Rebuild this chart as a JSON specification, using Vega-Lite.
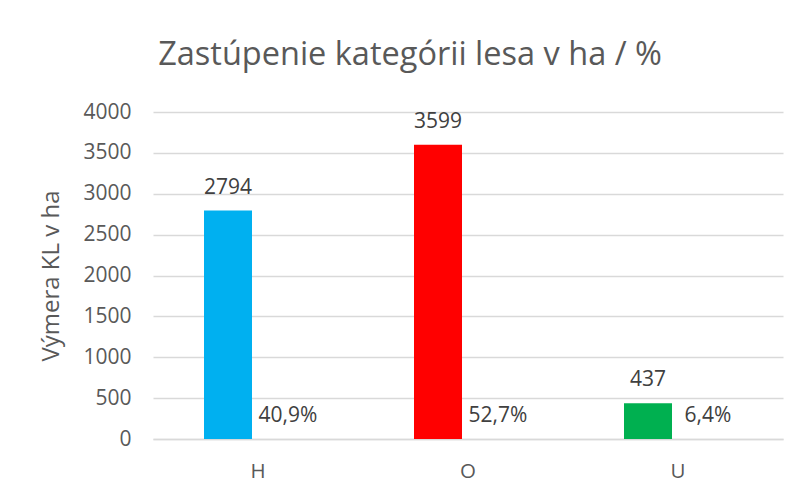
{
  "$schema": "https://vega.github.io/schema/vega-lite/v6.json",
  "width": 630,
  "height": 327,
  "autosize": {"type": "none"},
  "padding": {"left": 153, "top": 112, "right": 19, "bottom": 56},
  "background": "white",
  "config": {
    "font": "Open Sans",
    "view": {"stroke": null},
    "text": {"font": "Open Sans"}
  },
  "title": {
    "text": "Zastúpenie kategórii lesa v ha / %",
    "fontSize": 32.5,
    "fontWeight": "normal",
    "color": "#595959",
    "anchor": "middle",
    "dx": -58,
    "baseline": "alphabetic",
    "offset": 4
  },
  "data": {
    "values": [
      {"kat": "H", "ha": 2794, "pct": "40,9%"},
      {"kat": "O", "ha": 3599, "pct": "52,7%"},
      {"kat": "U", "ha": 437, "pct": "6,4%"}
    ]
  },
  "encoding": {
    "x": {
      "field": "kat",
      "type": "nominal",
      "scale": {"paddingInner": 0.4, "paddingOuter": 0.2},
      "axis": {
        "title": null,
        "labelAngle": 0,
        "labelFontSize": 20.5,
        "labelColor": "#595959",
        "labelPadding": 22,
        "ticks": false,
        "domain": true,
        "domainColor": "#D9D9D9",
        "domainWidth": 1.5
      }
    }
  },
  "layer": [
    {
      "mark": {"type": "bar"},
      "encoding": {
        "xOffset": {"datum": "Výmera", "type": "nominal", "scale": {"domain": ["Výmera", "Podiel"], "paddingInner": 0.2, "paddingOuter": 0.15}},
        "y": {
          "field": "ha",
          "type": "quantitative",
          "scale": {"domain": [0, 4000], "nice": false},
          "axis": {
            "title": "Výmera KL v ha",
            "titleFontSize": 24,
            "titleFontWeight": "normal",
            "titleColor": "#595959",
            "titlePadding": 19,
            "values": [0, 500, 1000, 1500, 2000, 2500, 3000, 3500, 4000],
            "format": "d",
            "labelFontSize": 21,
            "labelColor": "#595959",
            "labelPadding": 22,
            "ticks": false,
            "domain": false,
            "gridColor": "#D9D9D9",
            "gridWidth": 1.5
          }
        },
        "color": {
          "field": "kat",
          "type": "nominal",
          "scale": {"domain": ["H", "O", "U"], "range": ["#00B0F0", "#FF0000", "#00B050"]},
          "legend": null
        }
      }
    },
    {
      "mark": {"type": "text", "fontSize": 21, "color": "#404040", "baseline": "alphabetic", "dy": -17},
      "encoding": {
        "xOffset": {"datum": "Výmera", "type": "nominal"},
        "y": {"field": "ha", "type": "quantitative"},
        "text": {"field": "ha", "type": "quantitative", "format": "d"}
      }
    },
    {
      "mark": {"type": "text", "fontSize": 21, "color": "#404040", "baseline": "alphabetic", "dy": -17},
      "encoding": {
        "xOffset": {"datum": "Podiel", "type": "nominal"},
        "y": {"datum": 0, "type": "quantitative"},
        "text": {"field": "pct", "type": "nominal"}
      }
    }
  ]
}
